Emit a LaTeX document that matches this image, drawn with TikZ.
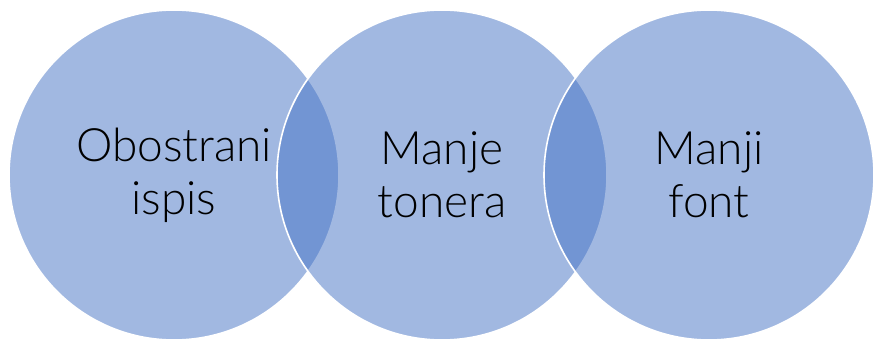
\documentclass[tikz,border=0pt]{standalone}
\usepackage{fontspec}
\setmainfont{Lato}[UprightFont=* Light]
\definecolor{accentblue}{HTML}{4472C4}
\begin{document}
\begin{tikzpicture}[x=1pt, y=1pt, every node/.style={circle, draw=white, line width=1.6pt, fill=accentblue, fill opacity=0.5, text opacity=1, minimum size=330pt, inner sep=0pt, align=center, font=\fontsize{46}{53}\selectfont}]
                \useasboundingbox (0, 0) rectangle (874, 343);

                % Circles
                \node at (174, 168) (obostrani) {Obostrani\\ispis};
                \node at (442, 168) (manje) {Manje\\tonera};
                \node at (709, 168) (manji) {Manji\\font};
            \end{tikzpicture}
\end{document}
